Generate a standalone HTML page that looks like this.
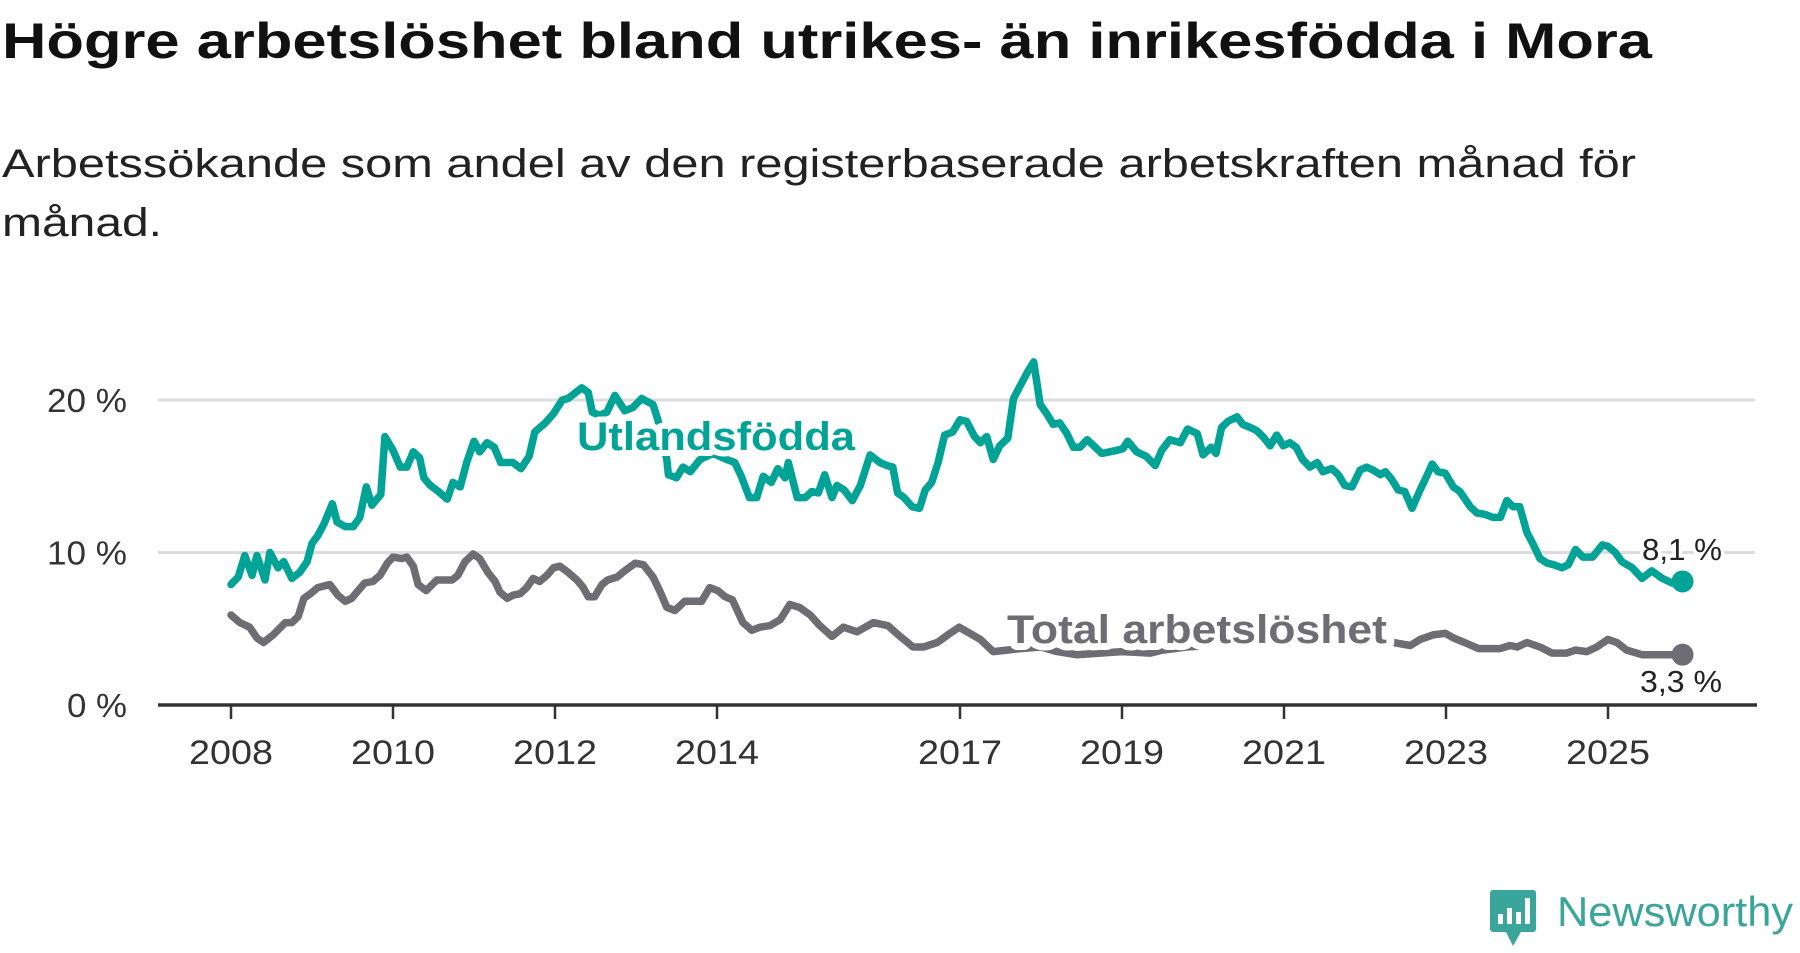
<!DOCTYPE html>
<html><head><meta charset="utf-8">
<style>
html,body{margin:0;padding:0;background:#fff;}
body{width:1800px;height:948px;overflow:hidden;position:relative;font-family:"Liberation Sans",sans-serif;}
svg text{font-family:"Liberation Sans",sans-serif;}
</style></head>
<body>
<svg id="chart" width="1800" height="948" viewBox="0 0 1800 948" xmlns="http://www.w3.org/2000/svg">
  <text x="2" y="58" font-size="50" font-weight="bold" fill="#111" textLength="1650" lengthAdjust="spacingAndGlyphs">Högre arbetslöshet bland utrikes- än inrikesfödda i Mora</text>
  <text x="2" y="177" font-size="40" fill="#222" textLength="1634" lengthAdjust="spacingAndGlyphs">Arbetssökande som andel av den registerbaserade arbetskraften månad för</text>
  <text x="2" y="236" font-size="40" fill="#222" textLength="160" lengthAdjust="spacingAndGlyphs">månad.</text>
  <g id="grid"></g>
  <g id="axes"></g>
  <g id="series"></g>
  <g id="labels"></g>
  <g>
    <rect x="1490" y="890" width="46" height="42" rx="3" fill="#3aa59a"/>
    <polygon points="1505,930 1522,930 1513,946" fill="#3aa59a"/>
    <rect x="1498" y="914" width="5" height="10" fill="#fff"/>
    <rect x="1507" y="908" width="5" height="16" fill="#fff"/>
    <rect x="1516" y="912" width="5" height="12" fill="#fff"/>
    <rect x="1525" y="898" width="5" height="26" fill="#fff"/>
    <text x="1557" y="926" font-size="42" fill="#3aa59a" textLength="236" lengthAdjust="spacingAndGlyphs">Newsworthy</text>
  </g>
</svg>
<script>
const tDates=[2008.0,2008.09,2008.17,2008.26,2008.32,2008.42,2008.48,2008.58,2008.65,2008.75,2008.85,2008.94,2009.0,2009.07,2009.15,2009.25,2009.31,2009.41,2009.51,2009.59,2009.67,2009.74,2009.85,2009.9,2010.0,2010.09,2010.17,2010.25,2010.33,2010.38,2010.46,2010.56,2010.67,2010.74,2010.83,2010.91,2011.0,2011.07,2011.16,2011.25,2011.33,2011.48,2011.58,2011.68,2011.75,2011.88,2011.98,2012.09,2012.16,2012.33,2012.41,2012.46,2012.55,2012.64,2012.74,2012.86,2012.96,2013.07,2013.21,2013.27,2013.38,2013.4,2013.5,2013.58,2013.67,2013.79,2013.95,2014.12,2014.22,2014.3,2014.4,2014.49,2014.57,2014.67,2014.75,2014.84,2014.88,2014.99,2015.09,2015.17,2015.25,2015.33,2015.42,2015.48,2015.57,2015.67,2015.77,2015.89,2016.01,2016.1,2016.17,2016.23,2016.31,2016.41,2016.5,2016.57,2016.65,2016.73,2016.81,2016.91,2017.0,2017.08,2017.18,2017.25,2017.33,2017.41,2017.49,2017.59,2017.66,2017.74,2017.83,2017.91,2017.99,2018.07,2018.15,2018.23,2018.32,2018.4,2018.48,2018.57,2018.65,2018.75,2018.94,2019.01,2019.07,2019.18,2019.3,2019.41,2019.49,2019.59,2019.72,2019.81,2019.93,2020.0,2020.1,2020.16,2020.23,2020.31,2020.42,2020.49,2020.58,2020.66,2020.74,2020.83,2020.91,2020.99,2021.07,2021.15,2021.23,2021.32,2021.41,2021.48,2021.59,2021.67,2021.75,2021.84,2021.94,2022.02,2022.1,2022.19,2022.25,2022.33,2022.41,2022.49,2022.58,2022.68,2022.76,2022.83,2022.9,2022.99,2023.09,2023.17,2023.3,2023.38,2023.48,2023.58,2023.67,2023.75,2023.83,2023.91,2024.0,2024.07,2024.16,2024.25,2024.33,2024.43,2024.51,2024.6,2024.69,2024.81,2024.93,2025.0,2025.09,2025.17,2025.3,2025.42,2025.54,2025.67,2025.79,2025.92];
const tVals=[7.9,8.4,9.8,8.5,9.8,8.2,10.0,9.0,9.4,8.3,8.7,9.4,10.6,11.1,11.9,13.2,12.0,11.7,11.7,12.3,14.3,13.1,13.8,17.6,16.7,15.6,15.6,16.6,16.2,14.9,14.4,14.0,13.5,14.6,14.3,15.9,17.3,16.6,17.2,16.9,15.9,15.9,15.5,16.3,17.9,18.5,19.1,20.0,20.1,20.8,20.5,19.2,19.0,19.2,20.3,19.3,19.5,20.1,19.7,18.7,16.1,15.1,14.9,15.6,15.3,16.1,16.5,16.1,15.9,15.0,13.6,13.6,15.0,14.6,15.5,14.9,15.9,13.6,13.6,14.0,13.9,15.1,13.6,14.4,14.1,13.4,14.4,16.4,15.9,15.7,15.6,13.9,13.6,13.0,12.9,14.1,14.6,15.9,17.7,17.9,18.7,18.6,17.6,17.2,17.6,16.1,17.0,17.5,20.1,20.9,21.8,22.5,19.7,19.1,18.4,18.5,17.8,16.9,16.9,17.4,17.0,16.5,16.7,16.8,17.3,16.6,16.3,15.7,16.7,17.4,17.2,18.1,17.8,16.4,16.9,16.5,18.2,18.6,18.9,18.4,18.2,18.0,17.6,17.0,17.7,17.0,17.2,16.9,16.1,15.6,15.9,15.3,15.5,15.1,14.4,14.3,15.4,15.6,15.4,15.1,15.3,14.8,14.1,14.0,12.9,14.1,15.0,15.8,15.3,15.2,14.3,14.0,13.0,12.6,12.5,12.3,12.3,13.4,13.0,13.0,11.3,10.6,9.6,9.3,9.2,9.0,9.2,10.2,9.7,9.7,10.5,10.4,10.0,9.4,9.0,8.3,8.8,8.3,8.0,8.1];
const gDates=[2008.0,2008.11,2008.23,2008.32,2008.4,2008.52,2008.67,2008.75,2008.83,2008.9,2008.98,2009.07,2009.22,2009.32,2009.41,2009.49,2009.57,2009.65,2009.75,2009.84,2009.93,2010.0,2010.11,2010.17,2010.25,2010.31,2010.41,2010.54,2010.73,2010.8,2010.89,2010.99,2011.07,2011.17,2011.26,2011.32,2011.41,2011.48,2011.57,2011.65,2011.73,2011.81,2011.9,2011.98,2012.06,2012.16,2012.27,2012.35,2012.41,2012.49,2012.58,2012.65,2012.77,2012.86,2012.99,2013.09,2013.21,2013.3,2013.38,2013.48,2013.6,2013.81,2013.91,2014.01,2014.1,2014.19,2014.32,2014.43,2014.53,2014.65,2014.78,2014.9,2015.02,2015.15,2015.27,2015.42,2015.56,2015.73,2015.93,2016.11,2016.26,2016.42,2016.55,2016.72,2016.85,2016.99,2017.12,2017.25,2017.41,2017.58,2017.75,2018.0,2018.2,2018.44,2018.73,2019.0,2019.35,2019.5,2019.8,2020.1,2020.35,2020.6,2020.9,2021.2,2021.5,2021.8,2022.1,2022.35,2022.56,2022.68,2022.84,2022.99,2023.09,2023.23,2023.4,2023.67,2023.79,2023.88,2024.0,2024.16,2024.31,2024.49,2024.6,2024.74,2024.86,2025.0,2025.11,2025.23,2025.42,2025.64,2025.92];
const gVals=[5.9,5.4,5.1,4.4,4.1,4.6,5.4,5.4,5.8,7.0,7.3,7.7,7.9,7.2,6.8,7.0,7.5,8.0,8.1,8.5,9.3,9.7,9.6,9.7,9.1,7.9,7.5,8.2,8.2,8.5,9.4,9.9,9.6,8.7,8.1,7.4,7.0,7.2,7.3,7.7,8.3,8.1,8.5,9.0,9.1,8.7,8.2,7.7,7.1,7.1,7.9,8.2,8.4,8.8,9.3,9.2,8.4,7.4,6.4,6.2,6.8,6.8,7.7,7.5,7.1,6.9,5.4,4.9,5.1,5.2,5.6,6.6,6.4,5.9,5.2,4.5,5.1,4.8,5.4,5.2,4.5,3.8,3.8,4.1,4.6,5.1,4.7,4.3,3.5,3.6,3.7,3.8,3.5,3.3,3.4,3.5,3.4,3.6,3.8,3.9,4.6,4.8,4.7,4.6,4.3,4.2,4.1,4.1,3.9,4.3,4.6,4.7,4.4,4.1,3.7,3.7,3.9,3.8,4.1,3.8,3.4,3.4,3.6,3.5,3.8,4.3,4.1,3.6,3.3,3.3,3.3];
const yTicks=[0,10,20];
const yTickLabels=["0 %","10 %","20 %"];
const xTicks=[2008,2010,2012,2014,2017,2019,2021,2023,2025];

const NS="http://www.w3.org/2000/svg";
const X=y=>231+(y-2008)*81;
const Y=v=>705-v*15.25;
function mk(tag,attrs,parent){const e=document.createElementNS(NS,tag);for(const k in attrs)e.setAttribute(k,attrs[k]);parent.appendChild(e);return e;}
const grid=document.getElementById('grid'),axes=document.getElementById('axes'),series=document.getElementById('series'),labels=document.getElementById('labels');

yTicks.forEach((v,i)=>{
  if(v!==0){
    const l=mk('line',{x1:158,x2:1755,y1:Y(v),y2:Y(v),stroke:'#dcdcdc','stroke-width':3},grid);
    
    
  }
  const w=yTickLabels[i].length*20;
  const t=mk('text',{x:127-w,y:Y(v)+12,'font-size':33,fill:'#333',textLength:w,lengthAdjust:'spacingAndGlyphs'},axes);
  t.textContent=yTickLabels[i];
  
  
});
const ax=mk('line',{x1:158,x2:1757,y1:705,y2:705,stroke:'#333','stroke-width':3.5},axes);


xTicks.forEach(yr=>{
  const tk=mk('line',{x1:X(yr),x2:X(yr),y1:705,y2:719,stroke:'#333','stroke-width':2.5},axes);
  
  
  const t=mk('text',{x:X(yr)-42,y:764,'font-size':34,fill:'#333',textLength:84,lengthAdjust:'spacingAndGlyphs'},axes);
  t.textContent=yr;
  
  
});

function path(d,v){return d.map((x,i)=>(i?'L':'M')+X(x).toFixed(1)+','+Y(v[i]).toFixed(1)).join(' ');}
const gp=mk('path',{d:path(gDates,gVals),fill:'none',stroke:'#6e6d73','stroke-width':7.5,'stroke-linejoin':'round','stroke-linecap':'round'},series);


const tp=mk('path',{d:path(tDates,tVals),fill:'none',stroke:'#00a396','stroke-width':7.5,'stroke-linejoin':'round','stroke-linecap':'round'},series);


const tl=tDates.length-1,gl=gDates.length-1;
const td=mk('circle',{cx:X(tDates[tl]),cy:Y(tVals[tl]),r:11,fill:'#00a396'},series);


const gd=mk('circle',{cx:X(gDates[gl]),cy:Y(gVals[gl]),r:11,fill:'#6e6d73'},series);



function lab(txt,x,y,size,fill,weight,len,name,sw){
  const t=mk('text',{x:x,y:y,'font-size':size,fill:fill,'font-weight':weight,stroke:'#fff','stroke-width':sw,'paint-order':'stroke','stroke-linejoin':'round',textLength:len,lengthAdjust:'spacingAndGlyphs'},labels);
  t.textContent=txt;
  
  
}
lab('Utlandsfödda',577,450,40,'#00a396','bold',278,'utlandsfodda-label',12);
lab('Total arbetslöshet',1007,643,40,'#6e6d73','bold',380,'total-label',14);
lab('8,1 %',1642,560,31,'#222','normal',80,'utlandsfodda-end-value',7);
lab('3,3 %',1640,692,31,'#222','normal',82,'total-end-value',7);
</script>
</body></html>
